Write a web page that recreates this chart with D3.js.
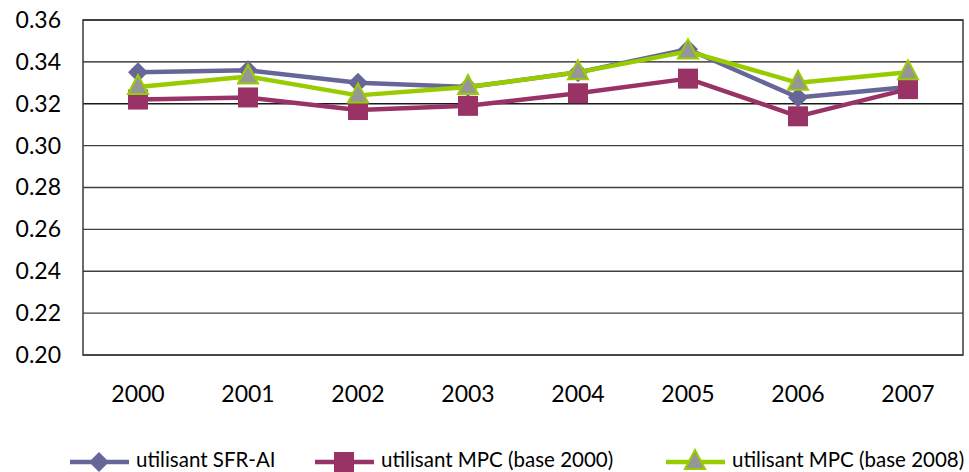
<!DOCTYPE html>
<html>
<head>
<meta charset="utf-8">
<script src="https://cdn.jsdelivr.net/npm/d3@7"></script>
<style>
  html, body { margin: 0; padding: 0; background: #fff; }
  svg { display: block; font-family: Lato, "Open Sans", sans-serif; }
</style>
</head>
<body>
<svg id="chart" width="969" height="472"></svg>
<script>
// Years on the horizontal axis
const years = ["2000", "2001", "2002", "2003", "2004", "2005", "2006", "2007"];
// Series values
const sfrAI   = [0.335, 0.336, 0.330, 0.328, 0.335, 0.346, 0.323, 0.328];
const mpc2000 = [0.322, 0.323, 0.317, 0.319, 0.325, 0.332, 0.314, 0.327];
const mpc2008 = [0.328, 0.333, 0.324, 0.328, 0.335, 0.345, 0.330, 0.335];
// Vertical axis ticks
const yTicks = [0.20, 0.22, 0.24, 0.26, 0.28, 0.30, 0.32, 0.34, 0.36];
const seriesNames = ["utilisant SFR-AI", "utilisant MPC (base 2000)", "utilisant MPC (base 2008)"];

const series = [
  { name: seriesNames[0], values: sfrAI,   color: "#666699", marker: "diamond" },
  { name: seriesNames[1], values: mpc2000, color: "#993366", marker: "square" },
  { name: seriesNames[2], values: mpc2008, color: "#99cc00", marker: "triangle" }
];

const svg = d3.select("#chart");
const margin = { left: 83, right: 6, top: 20, bottom: 117 };
const W = 969, H = 472;

const x = d3.scaleBand().domain(years).range([margin.left, W - margin.right]);
const y = d3.scaleLinear().domain([0.20, 0.36]).range([H - margin.bottom, margin.top]);

// Horizontal gridlines
svg.append("g")
  .selectAll("line")
  .data(yTicks)
  .join("line")
  .attr("x1", margin.left).attr("x2", W - margin.right)
  .attr("y1", d => y(d)).attr("y2", d => y(d))
  .attr("stroke", d => d >= 0.32 ? "#1a1a1a" : "#404040")
  .attr("stroke-width", 1.3);

// Plot frame
svg.append("rect")
  .attr("x", margin.left).attr("y", margin.top)
  .attr("width", W - margin.right - margin.left)
  .attr("height", y(0.20) - margin.top)
  .attr("fill", "none")
  .attr("stroke", "#3a3a3a")
  .attr("stroke-width", 1.5);

// Y axis labels
const yAxis = d3.axisLeft(y).tickValues(yTicks).tickFormat(d3.format(".2f")).tickSize(0).tickPadding(22);
svg.append("g")
  .attr("transform", `translate(${margin.left},0)`)
  .call(yAxis)
  .call(g => g.select(".domain").remove())
  .call(g => g.selectAll("text").attr("font-size", 23).attr("fill", "#000").attr("font-family", "Lato, sans-serif"));

// X axis labels
const xAxis = d3.axisBottom(x).tickSize(0).tickPadding(31);
svg.append("g")
  .attr("transform", `translate(0,${y(0.20)})`)
  .call(xAxis)
  .call(g => g.select(".domain").remove())
  .call(g => g.selectAll("text").attr("font-size", 23).attr("fill", "#000").attr("font-family", "Lato, sans-serif"));

// Marker shapes
function drawMarker(g, type, color, cx, cy) {
  if (type === "diamond") {
    g.append("path")
      .attr("d", `M${cx},${cy - 10}L${cx + 10},${cy}L${cx},${cy + 10}L${cx - 10},${cy}Z`)
      .attr("fill", color);
  } else if (type === "square") {
    g.append("rect")
      .attr("x", cx - 10).attr("y", cy - 10).attr("width", 20).attr("height", 20)
      .attr("fill", color);
  } else {
    g.append("path")
      .attr("d", `M${cx},${cy - 12}L${cx + 10},${cy + 7}L${cx - 10},${cy + 7}Z`)
      .attr("fill", "#969696")
      .attr("stroke", color)
      .attr("stroke-width", 2);
  }
}

const line = d3.line()
  .x((d, i) => x(years[i]) + x.bandwidth() / 2)
  .y(d => y(d));

series.forEach(s => {
  const g = svg.append("g");
  g.append("path")
    .datum(s.values)
    .attr("d", line)
    .attr("fill", "none")
    .attr("stroke", s.color)
    .attr("stroke-width", 4.5)
    .attr("stroke-linejoin", "round");
  s.values.forEach((v, i) => drawMarker(g, s.marker, s.color, x(years[i]) + x.bandwidth() / 2, y(v)));
});

// Legend
const legendX = [70, 315, 666];
const legendY = 462;
series.forEach((s, i) => {
  const g = svg.append("g");
  g.append("line")
    .attr("x1", legendX[i]).attr("x2", legendX[i] + 59)
    .attr("y1", legendY).attr("y2", legendY)
    .attr("stroke", s.color).attr("stroke-width", 4.5);
  drawMarker(g, s.marker, s.color, legendX[i] + 29, legendY);
  g.append("text")
    .attr("x", legendX[i] + 66).attr("y", 467)
    .attr("font-size", 20.5)
    .attr("fill", "#000")
    .text(s.name);
});
</script>
</body>
</html>
